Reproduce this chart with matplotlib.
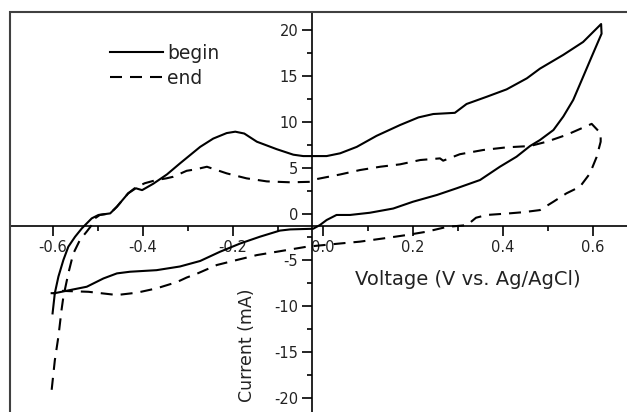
import matplotlib
matplotlib.use('Agg')
import matplotlib.pyplot as plt
from matplotlib.patches import Rectangle
from matplotlib.ticker import MultipleLocator

plt.rcParams['font.family'] = ['DejaVu Sans']
plt.rcParams['axes.unicode_minus'] = False

# ---- data ----
begin_v = [-0.601, -0.596, -0.588, -0.577, -0.566, -0.551, -0.536, -0.514, -0.499, -0.473,
           -0.458, -0.433, -0.416, -0.402, -0.377, -0.347, -0.318, -0.273, -0.244, -0.214,
           -0.195, -0.175, -0.147, -0.103, -0.066, -0.044, 0.008, 0.038, 0.075, 0.119,
           0.171, 0.212, 0.245, 0.293, 0.319, 0.364, 0.408, 0.453, 0.482, 0.534,
           0.578, 0.618,
           0.619, 0.597, 0.575, 0.556, 0.534, 0.512, 0.482, 0.460, 0.430, 0.393,
           0.349, 0.297, 0.253, 0.200, 0.156, 0.104, 0.060, 0.030, 0.008, -0.007,
           -0.022, -0.073, -0.096, -0.140, -0.184, -0.229, -0.273, -0.318, -0.370, -0.429,
           -0.458, -0.488, -0.525, -0.562, -0.596, -0.603]
begin_i = [-10.8, -8.6, -6.8, -5.0, -3.55, -2.47, -1.56, -0.47, -0.1, 0.07,
           0.8, 2.25, 2.8, 2.6, 3.3, 4.3, 5.5, 7.3, 8.2, 8.8,
           8.95, 8.75, 7.86, 7.05, 6.45, 6.3, 6.3, 6.6, 7.3, 8.5,
           9.67, 10.5, 10.87, 11.0, 11.96, 12.75, 13.55, 14.75, 15.8, 17.3,
           18.7, 20.65,
           19.6, 17.1, 14.57, 12.4, 10.6, 9.13, 8.04, 7.39, 6.23, 5.14,
           3.7, 2.8, 2.07, 1.34, 0.6, 0.14, -0.1, -0.1, -0.65, -1.2,
           -1.6, -1.67, -1.8, -2.46, -3.2, -4.1, -5.1, -5.7, -6.1, -6.27,
           -6.45, -7.0, -7.9, -8.26, -8.6, -8.6]

end_v = [-0.603, -0.596, -0.588, -0.581, -0.577, -0.566, -0.555, -0.540, -0.525, -0.514,
         -0.507, -0.496, -0.473, -0.458, -0.433, -0.416, -0.396, -0.370, -0.348, -0.333,
         -0.303, -0.284, -0.258, -0.214, -0.170, -0.125, -0.073, -0.029, -0.014, 0.038,
         0.082, 0.127, 0.171, 0.216, 0.260, 0.267, 0.304, 0.356, 0.408, 0.460,
         0.497, 0.541, 0.597, 0.617, 0.617, 0.608, 0.593, 0.571, 0.541, 0.512,
         0.482, 0.445, 0.408, 0.364, 0.340, 0.320, 0.275, 0.230, 0.186, 0.134,
         0.082, 0.038, -0.036, -0.103, -0.147, -0.192, -0.236, -0.281, -0.303, -0.325,
         -0.370, -0.414, -0.458, -0.521, -0.580]
end_i = [-19.1, -15.9, -13.3, -10.4, -9.0, -6.45, -4.3, -2.8, -1.9, -1.2,
         -0.47, -0.1, 0.07, 0.8, 2.25, 2.9, 3.35, 3.7, 3.88, 4.05,
         4.7, 4.85, 5.14, 4.42, 3.88, 3.55, 3.45, 3.5, 3.8, 4.3,
         4.78, 5.14, 5.4, 5.87, 6.05, 5.8, 6.5, 6.96, 7.25, 7.39,
         7.86, 8.6, 9.8, 8.77, 7.86, 6.2, 4.4, 2.97, 2.25, 1.34,
         0.43, 0.2, 0.05, -0.1, -0.4, -1.2, -1.4, -1.92, -2.28, -2.65,
         -3.0, -3.2, -3.55, -4.1, -4.46, -5.0, -5.54, -6.5, -6.9, -7.4,
         -8.08, -8.55, -8.8, -8.45, -8.35]

series_labels = ['begin', 'end']
x_ticks = [-0.6, -0.4, -0.2, 0.0, 0.2, 0.4, 0.6]
y_ticks = [-20, -15, -10, -5, 0, 5, 10, 15, 20]
x_label = 'Voltage (V vs. Ag/AgCl)'
y_label = 'Current (mA)'

# ---- figure ----
W, H = 627, 412
fig = plt.figure(figsize=(W / 100, H / 100), dpi=100)
# axes box in pixels: left 10, right 640, top 12, bottom 422 (partly outside the figure)
ax = fig.add_axes([10 / W, 1 - 422 / H, 630 / W, 410 / H])
ax.set_xlim(-0.6956, 0.7044)
ax.set_ylim(-22.6, 21.957)

ax.plot(begin_v, begin_i, color='black', lw=1.5, label=series_labels[0], zorder=3)
ax.plot(end_v, end_i, color='black', lw=1.5, dashes=(5.76, 3.84), label=series_labels[1], zorder=3)

# axes crossing inside the plot
ax.spines['left'].set_position(('data', -0.0244))
ax.spines['bottom'].set_position(('data', -1.304))
ax.spines['right'].set_visible(False)
ax.spines['top'].set_visible(False)
for s in ('left', 'bottom'):
    ax.spines[s].set_linewidth(1.2)
    ax.spines[s].set_color('black')

ax.add_patch(Rectangle((0, 0), 1, 1, transform=ax.transAxes, fill=False,
                       lw=1.5, ec='#404040', clip_on=False, zorder=5))

ax.set_xticks(x_ticks)
ax.set_yticks(y_ticks)
ax.set_xticklabels([f'{v:.1f}' for v in x_ticks])
ax.set_yticklabels([f'{v:d}' for v in y_ticks])
ax.xaxis.set_minor_locator(MultipleLocator(0.1))
ax.yaxis.set_minor_locator(MultipleLocator(2.5))
ax.tick_params(which='major', direction='out', length=7, width=1.2, labelsize=10.5,
               pad=3, labelcolor='#222222')
ax.tick_params(which='minor', direction='out', length=3.5, width=1.2)

ax.set_xlabel(x_label, fontsize=14, color='#222222')
ax.xaxis.set_label_coords((468 - 10) / 630, (422 - 285) / 410)
ax.xaxis.label.set_va('baseline')

ax.set_ylabel(y_label, fontsize=12.5, color='#222222')
ax.yaxis.set_label_coords((247 - 10) / 630, (422 - 345) / 410)
ax.yaxis.label.set_va('center')
ax.yaxis.label.set_rotation_mode('default')

ax.legend(loc='upper left', bbox_to_anchor=(110 / W, 1 - 44 / H),
          bbox_transform=fig.transFigure, frameon=False, fontsize=13.5,
          handlelength=2.8, handletextpad=0.25, labelspacing=0.32,
          borderpad=0, borderaxespad=0, labelcolor='#222222')

fig.savefig('out.png', dpi=100)
